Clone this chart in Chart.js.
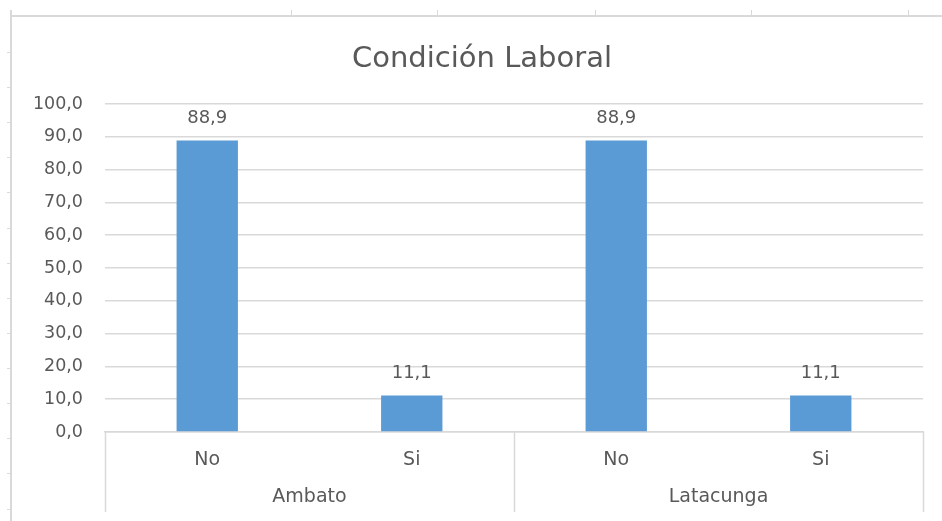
<!DOCTYPE html>
<html>
<head>
<meta charset="utf-8">
<script src="https://cdn.jsdelivr.net/npm/chart.js@4/dist/chart.umd.min.js"></script>
<style>
  body { margin: 0; background: #fff; }
  #wrap { position: relative; width: 942px; height: 521px; overflow: hidden; }
  #chart { position: absolute; left: 0; top: 0; }
  .line { position: absolute; background: #d9d9d9; }
</style>
</head>
<body>
<div id="wrap">
  <canvas id="chart" width="942" height="521"></canvas>
</div>
<script>
// data
const groups = ['Ambato', 'Latacunga'];
const categories = ['No', 'Si', 'No', 'Si'];
const values = [88.9, 11.1, 88.9, 11.1];
const chartTitle = 'Condición Laboral';

const textColor = '#595959';
const gridColor = '#d9d9d9';
const barColor = '#5b9bd5';
const fontFamily = '"DejaVu Sans", sans-serif';

// spreadsheet frame around the chart object
const wrap = document.getElementById('wrap');
function addLine(l, t, w, h) {
  const d = document.createElement('div');
  d.className = 'line';
  d.style.left = l + 'px'; d.style.top = t + 'px';
  d.style.width = w + 'px'; d.style.height = h + 'px';
  wrap.appendChild(d);
}
addLine(10, 15, 932, 2);
addLine(10, 10, 2, 511);
[291, 437, 595, 751, 908].forEach(x => addLine(x, 10, 1, 5));
[52, 87, 122, 157, 192, 228, 263, 298, 333, 368, 403, 438, 473, 509].forEach(y => addLine(7, y, 3, 1));

function fmt(v) {
  return v.toFixed(1).replace('.', ',');
}

const titleText = {
  id: 'titleText',
  afterDraw(chart) {
    const ctx = chart.ctx;
    ctx.save();
    ctx.fillStyle = textColor;
    ctx.font = '29px ' + fontFamily;
    ctx.textAlign = 'center';
    ctx.textBaseline = 'alphabetic';
    ctx.fillText(chartTitle, 482, 67);
    ctx.restore();
  }
};

const valueLabels = {
  id: 'valueLabels',
  afterDatasetsDraw(chart) {
    const ctx = chart.ctx;
    const meta = chart.getDatasetMeta(0);
    ctx.save();
    ctx.fillStyle = textColor;
    ctx.font = '18px ' + fontFamily;
    ctx.textAlign = 'center';
    ctx.textBaseline = 'middle';
    meta.data.forEach((bar, i) => {
      ctx.fillText(fmt(values[i]), bar.x, bar.y - 22);
    });
    ctx.restore();
  }
};

const groupAxis = {
  id: 'groupAxis',
  afterDraw(chart) {
    const ctx = chart.ctx;
    const x = chart.scales.x;
    const area = chart.chartArea;
    const per = categories.length / groups.length;
    ctx.save();
    ctx.strokeStyle = gridColor;
    ctx.lineWidth = 1.5;
    const edges = [area.left];
    for (let g = 1; g < groups.length; g++) {
      edges.push((x.getPixelForValue(g * per - 1) + x.getPixelForValue(g * per)) / 2);
    }
    edges.push(area.right);
    edges.forEach(ex => {
      ctx.beginPath();
      ctx.moveTo(Math.round(ex) + 0.5, area.bottom);
      ctx.lineTo(Math.round(ex) + 0.5, area.bottom + 80);
      ctx.stroke();
    });
    ctx.fillStyle = textColor;
    ctx.font = '19px ' + fontFamily;
    ctx.textAlign = 'center';
    ctx.textBaseline = 'middle';
    groups.forEach((g, i) => {
      ctx.fillText(g, (edges[i] + edges[i + 1]) / 2, area.bottom + 65);
    });
    ctx.restore();
  }
};

new Chart(document.getElementById('chart').getContext('2d'), {
  type: 'bar',
  data: {
    labels: categories,
    datasets: [{
      data: values,
      backgroundColor: barColor,
      borderWidth: 0,
      barPercentage: 0.3,
      categoryPercentage: 1
    }]
  },
  options: {
    responsive: false,
    animation: false,
    layout: { padding: { left: 0, right: 19, top: 104, bottom: 0 } },
    plugins: {
      legend: { display: false },
      tooltip: { enabled: false },
      title: { display: false }
    },
    scales: {
      x: {
        grid: { display: false, drawTicks: false },
        border: { display: true, color: gridColor, width: 1.5 },
        ticks: { color: textColor, font: { family: fontFamily, size: 19 }, padding: 17 },
        afterFit(scale) { scale.height = 89; }
      },
      y: {
        min: 0,
        max: 100,
        ticks: {
          stepSize: 10,
          color: textColor,
          font: { family: fontFamily, size: 17.5 },
          padding: 22,
          callback: v => fmt(v)
        },
        grid: { color: gridColor, lineWidth: 1.5, drawTicks: false },
        border: { display: false },
        afterFit(scale) { scale.width = 105; }
      }
    }
  },
  plugins: [titleText, valueLabels, groupAxis]
});
</script>
</body>
</html>
